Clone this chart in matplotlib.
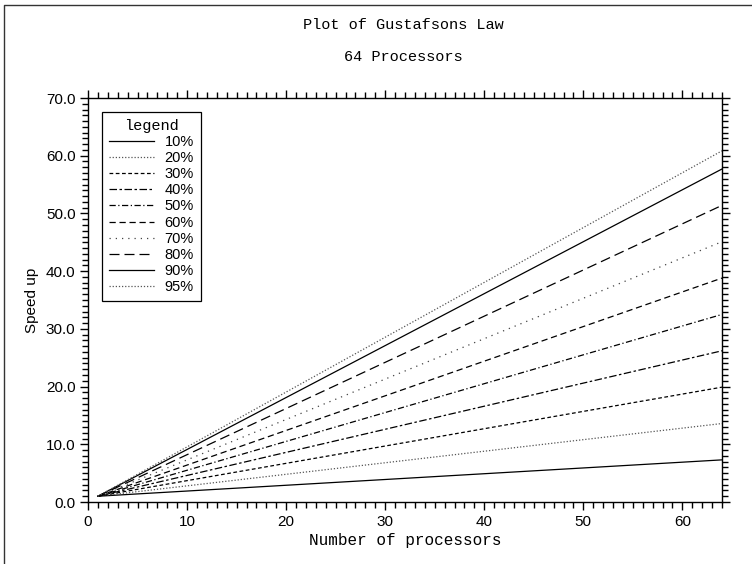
import matplotlib
matplotlib.use("Agg")
import matplotlib.pyplot as plt
from matplotlib.lines import Line2D
from matplotlib.ticker import MultipleLocator, FormatStrFormatter

# parallel fraction of each curve and the speedup read at 1 and 64 processors
fractions = ["10%", "20%", "30%", "40%", "50%", "60%", "70%", "80%", "90%", "95%"]
processors = [1, 64]
speedup_start = [1.0] * 10
speedup_end = [7.3, 13.6, 19.9, 26.2, 32.5, 38.8, 45.1, 51.4, 57.7, 60.85]

styles = [
    ("-", "black"),
    ((0, (1, 1.5)), "#555555"),
    ((0, (3, 2)), "black"),
    ((0, (6, 2, 2, 2)), "black"),
    ((0, (5, 2, 1, 2)), "black"),
    ((0, (5, 3)), "black"),
    ((0, (1, 4)), "#444444"),
    ((0, (8, 4)), "black"),
    ("-", "black"),
    ((0, (1, 1.5)), "#555555"),
]

serif = "Liberation Mono"
sans = "Liberation Sans"

fig = plt.figure(figsize=(7.52, 5.64), dpi=100)
ax = fig.add_axes([88 / 752, 1 - 502 / 564, 634 / 752, 404 / 564])

for frac, y0, y1, (ls, col) in zip(fractions, speedup_start, speedup_end, styles):
    ax.plot(processors, [y0, y1], linestyle=ls, color=col, linewidth=0.9, label=frac)

ax.set_xlim(0, 64)
ax.set_ylim(0, 70)
ax.xaxis.set_major_locator(MultipleLocator(10))
ax.xaxis.set_minor_locator(MultipleLocator(1))
ax.yaxis.set_major_locator(MultipleLocator(10))
ax.yaxis.set_minor_locator(MultipleLocator(1))
ax.yaxis.set_major_formatter(FormatStrFormatter("%.1f"))
ax.tick_params(which="both", direction="out", top=True, right=True, width=1)
ax.tick_params(which="major", length=6, pad=3)
ax.tick_params(which="minor", length=4)
for lab in ax.get_xticklabels() + ax.get_yticklabels():
    lab.set_fontfamily(sans)
    lab.set_fontsize(11)
for sp in ax.spines.values():
    sp.set_linewidth(1)

ax.set_xlabel("Number of processors", fontfamily=serif, fontsize=11.5, labelpad=3)
ax.set_ylabel("Speed up", fontfamily=sans, fontsize=11, labelpad=5)

fig.text(403 / 752, 1 - 25 / 564, "Plot of Gustafsons Law", fontfamily=serif,
         fontsize=11, ha="center", va="center")
fig.text(403 / 752, 1 - 57 / 564, "64 Processors", fontfamily=serif,
         fontsize=11, ha="center", va="center")

leg = ax.legend(loc="upper left", bbox_to_anchor=(14 / 634, 1 - 14 / 404),
                borderaxespad=0, fancybox=False, edgecolor="black",
                framealpha=1, handlelength=3.1, handletextpad=0.75,
                labelspacing=0.15, borderpad=0.45, title="legend",
                prop={"family": sans, "size": 10.5})
leg.get_frame().set_linewidth(0.9)
leg.get_title().set_fontfamily(serif)
leg.get_title().set_fontsize(11)

# partial outer frame along top and left edges
fig.add_artist(Line2D([4 / 752, 4 / 752, 1], [0, 1 - 5 / 564, 1 - 5 / 564],
                      transform=fig.transFigure, color="#333333", linewidth=1))

fig.savefig("out.png", dpi=100)
